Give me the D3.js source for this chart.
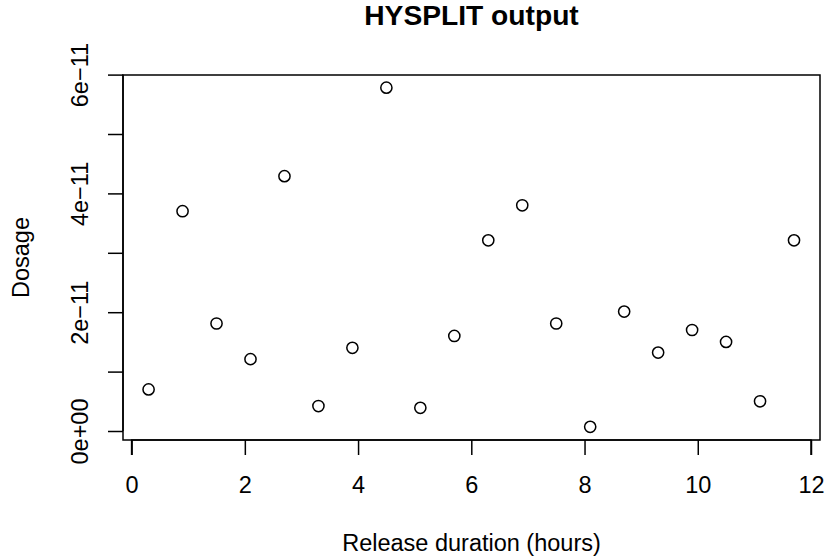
<!DOCTYPE html>
<html>
<head>
<meta charset="utf-8">
<script src="https://cdn.jsdelivr.net/npm/d3@7"></script>
<style>
  body { margin: 0; background: #fff; }
  text { font-family: "Liberation Sans", Arial, sans-serif; }
</style>
</head>
<body>
<svg id="vis"></svg>
<script>
const plotWidth = 829;
const plotHeight = 560;

// release duration (hours) and dosage
const hours = [0.3, 0.9, 1.5, 2.1, 2.7, 3.3, 3.9, 4.5, 5.1, 5.7,
               6.3, 6.9, 7.5, 8.1, 8.7, 9.3, 9.9, 10.5, 11.1, 11.7];
const dosage = [0.70e-11, 3.70e-11, 1.81e-11, 1.21e-11, 4.29e-11, 0.42e-11, 1.40e-11, 5.78e-11, 0.39e-11, 1.60e-11,
                3.21e-11, 3.80e-11, 1.81e-11, 0.07e-11, 2.01e-11, 1.32e-11, 1.70e-11, 1.50e-11, 0.50e-11, 3.21e-11];
const xTicks = [0, 2, 4, 6, 8, 10, 12];
const yTicks = [0, 1e-11, 2e-11, 3e-11, 4e-11, 5e-11, 6e-11];
const yLabels = {0: '0e+00', 2e-11: '2e\u221211', 4e-11: '4e\u221211', 6e-11: '6e\u221211'};

const svg = d3.select('#vis')
            .attr('width', plotWidth)
            .attr('height', plotHeight);

const box = {left: 123, right: 820, top: 75, bottom: 440};
const fontSize = 23.5;
const lw = 1.5;

const x = d3.scaleLinear().domain([0, 12]).range([131.6, 811]);
const y = d3.scaleLinear().domain([0, 6e-11]).range([431, 74.6]);

function main() {
    // plot frame
    svg.append('rect')
        .attr('x', box.left).attr('y', box.top)
        .attr('width', box.right - box.left)
        .attr('height', box.bottom - box.top)
        .attr('fill', 'none').attr('stroke', '#000').attr('stroke-width', lw);

    // x axis
    const xAxis = svg.append('g')
        .attr('transform', `translate(0,${box.bottom})`)
        .call(d3.axisBottom(x).tickValues(xTicks).tickSize(15).tickSizeOuter(0));
    xAxis.select('.domain')
        .attr('d', `M${x(0)},15V0H${x(12)}V15`);
    xAxis.selectAll('.tick text')
        .attr('y', 53).attr('dy', 0);

    // y axis
    const yAxis = svg.append('g')
        .attr('transform', `translate(${box.left},0)`)
        .call(d3.axisLeft(y).tickValues(yTicks).tickSize(15).tickSizeOuter(0)
              .tickFormat(d => yLabels[d] || ''));
    yAxis.select('.domain')
        .attr('d', `M0,${y(0)}V${y(6e-11)}`);
    yAxis.selectAll('.tick text')
        .attr('x', 0).attr('dy', 0)
        .attr('text-anchor', 'middle')
        .attr('transform', 'translate(-35,0) rotate(-90)');

    svg.selectAll('.domain, .tick line')
        .attr('stroke', '#000').attr('stroke-width', lw);
    svg.selectAll('.tick text')
        .attr('fill', '#000').style('font-size', fontSize + 'px');

    // points
    svg.selectAll('circle.pt')
        .data(hours.map((h, i) => ({h: h, d: dosage[i]})))
        .enter()
        .append('circle')
        .attr('class', 'pt')
        .attr('cx', d => x(d.h))
        .attr('cy', d => y(d.d))
        .attr('r', 5.6)
        .attr('fill', 'none')
        .attr('stroke', '#000')
        .attr('stroke-width', lw);

    // titles
    svg.append('text')
        .attr('x', (box.left + box.right) / 2).attr('y', 25)
        .attr('text-anchor', 'middle')
        .style('font-size', (fontSize * 1.2) + 'px').style('font-weight', 'bold')
        .text('HYSPLIT output');
    svg.append('text')
        .attr('x', (box.left + box.right) / 2).attr('y', 551)
        .attr('text-anchor', 'middle')
        .style('font-size', fontSize + 'px')
        .text('Release duration (hours)');
    svg.append('text')
        .attr('transform', `translate(28.5,${(box.top + box.bottom) / 2}) rotate(-90)`)
        .attr('text-anchor', 'middle')
        .style('font-size', fontSize + 'px')
        .text('Dosage');
}

main()
</script>
</body>
</html>
